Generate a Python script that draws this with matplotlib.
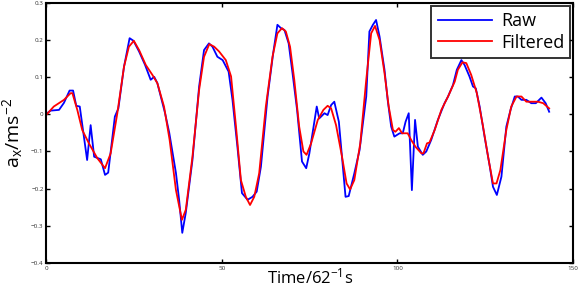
import matplotlib
matplotlib.use("Agg")
import matplotlib.pyplot as plt

plt.rcParams['font.family'] = ['Open Sans', 'DejaVu Sans']
plt.rcParams['mathtext.default'] = 'regular'

# raw accelerometer samples
t_raw = [0.2, 1.2, 3.6, 5.0, 6.6, 7.6, 8.5, 9.5, 11.6, 12.6, 13.6, 15.5, 16.7, 17.6,
         19.5, 20.5, 22.1, 23.7, 24.8, 26.4, 28.1, 29.7, 30.7, 31.6, 33.8, 35.0,
         36.9, 37.8, 38.7, 39.7, 41.6, 43.5, 44.9, 46.3, 47.3, 48.7, 50.2, 51.9,
         53.0, 54.4, 55.7, 57.3, 58.7, 59.9, 61.1, 63.0, 64.6, 65.8, 66.8, 67.8,
         69.0, 70.1, 71.4, 72.8, 74.0, 74.9, 77.0, 77.7, 79.2, 80.1, 81.1, 82.0,
         83.3, 85.2, 86.1, 87.7, 89.2, 91.1, 92.0, 93.0, 93.9, 94.9, 96.3, 97.2,
         98.2, 99.1, 100.6, 101.5, 102.3, 103.2, 104.1, 105.0, 105.8, 107.2, 108.2,
         109.6, 111.5, 113.4, 114.4, 115.8, 116.9, 118.2, 119.1, 120.5, 121.5,
         122.3, 123.4, 124.8, 126.3, 127.2, 128.3, 129.6, 131.0, 132.2, 133.4,
         134.3, 135.3, 136.7, 138.1, 139.4, 141.0, 142.2, 143.2]
a_raw = [0.003, 0.010, 0.012, 0.031, 0.064, 0.064, 0.023, 0.021, -0.123, -0.029,
         -0.114, -0.121, -0.163, -0.157, -0.006, 0.016, 0.128, 0.205, 0.198, 0.169,
         0.133, 0.093, 0.101, 0.084, 0.003, -0.050, -0.158, -0.230, -0.319, -0.265,
         -0.123, 0.075, 0.173, 0.191, 0.182, 0.155, 0.146, 0.115, 0.039, -0.087,
         -0.212, -0.230, -0.222, -0.208, -0.141, 0.048, 0.165, 0.241, 0.232, 0.227,
         0.191, 0.111, 0.012, -0.127, -0.145, -0.105, 0.021, -0.011, 0.003, -0.002,
         0.025, 0.034, -0.020, -0.222, -0.220, -0.159, -0.096, 0.048, 0.223, 0.241,
         0.254, 0.209, 0.120, 0.039, -0.033, -0.060, -0.051, -0.051, -0.020, 0.003,
         -0.204, -0.015, -0.087, -0.109, -0.100, -0.069, -0.015, 0.030, 0.048, 0.079,
         0.120, 0.146, 0.133, 0.102, 0.075, 0.070, 0.021, -0.060, -0.141, -0.195,
         -0.217, -0.168, -0.033, 0.012, 0.048, 0.048, 0.039, 0.039, 0.030, 0.030,
         0.045, 0.030, 0.007]

# filtered signal
t_filt = [0.2, 2.1, 5.0, 6.9, 7.4, 8.8, 10.2, 12.1, 14.5, 16.7, 18.3, 20.2, 22.1,
          23.5, 24.9, 26.4, 28.3, 30.2, 31.6, 33.5, 35.1, 36.9, 38.6, 39.7, 41.6,
          43.5, 44.9, 46.4, 47.8, 49.2, 51.1, 52.6, 54.0, 55.4, 56.8, 58.0, 59.2,
          60.6, 62.5, 64.4, 65.8, 67.1, 68.2, 69.4, 70.6, 72.0, 73.2, 74.1, 75.4,
          77.3, 78.9, 80.1, 81.1, 82.5, 84.2, 85.5, 86.5, 87.7, 89.4, 91.1, 92.5,
          93.6, 94.9, 96.3, 97.5, 98.7, 99.4, 100.4, 101.3, 102.9, 103.9, 105.1,
          106.8, 107.4, 108.4, 109.1, 110.6, 112.5, 114.4, 116.3, 117.2, 118.5,
          119.6, 121.0, 122.6, 124.3, 125.8, 127.2, 128.2, 129.3, 131.0, 132.4,
          133.9, 135.3, 136.7, 138.6, 140.0, 141.5, 143.2]
a_filt = [0.001, 0.021, 0.039, 0.057, 0.057, 0.012, -0.042, -0.078, -0.118, -0.145,
          -0.105, 0.003, 0.128, 0.182, 0.198, 0.173, 0.133, 0.106, 0.084, 0.021,
          -0.069, -0.204, -0.284, -0.257, -0.114, 0.066, 0.155, 0.189, 0.182, 0.169,
          0.146, 0.102, -0.033, -0.177, -0.222, -0.244, -0.222, -0.159, 0.021, 0.155,
          0.218, 0.232, 0.223, 0.182, 0.093, -0.033, -0.100, -0.109, -0.078, -0.015,
          0.012, 0.023, 0.016, -0.029, -0.114, -0.186, -0.202, -0.177, -0.078, 0.093,
          0.218, 0.238, 0.200, 0.111, 0.021, -0.042, -0.047, -0.037, -0.051, -0.051,
          -0.069, -0.087, -0.105, -0.105, -0.078, -0.076, -0.042, 0.012, 0.048, 0.088,
          0.120, 0.140, 0.138, 0.106, 0.057, -0.029, -0.114, -0.186, -0.186, -0.150,
          -0.042, 0.021, 0.048, 0.048, 0.034, 0.034, 0.034, 0.030, 0.016]

fig = plt.figure(figsize=(5.8, 2.88), dpi=100)
ax = fig.add_axes([0.080, 0.087, 0.908, 0.903])

ax.plot(t_raw, a_raw, color='#0000ff', lw=1.3, label='Raw')
ax.plot(t_filt, a_filt, color='#ff0000', lw=1.3, label='Filtered')

ax.set_xlim(0, 150)
ax.set_ylim(-0.4, 0.3)
ax.set_xticks([0, 50, 100, 150])
ax.set_yticks([-0.4, -0.3, -0.2, -0.1, 0, 0.1, 0.2, 0.3])
ax.set_yticklabels(['\u22120.4', '\u22120.3', '\u22120.2', '\u22120.1', '0', '0.1', '0.2', '0.3'])
ax.tick_params(direction='in', length=3, width=1, labelsize=4.5, pad=2,
               top=True, right=True, colors='black', labelcolor='#333333')
for s in ax.spines.values():
    s.set_linewidth(1.5)

ax.set_xlabel('Time/62$^{-1}$s', fontsize=12, labelpad=-2)
ax.set_ylabel('a$_x$/ms$^{-2}$', fontsize=14, labelpad=4)

leg = ax.legend(loc='upper right', fontsize=13, frameon=True, fancybox=False,
                edgecolor='black', handlelength=3.0, borderaxespad=0.15,
                labelspacing=0.2, borderpad=0.35, handletextpad=0.5)
leg.get_frame().set_linewidth(1.4)

fig.savefig('out.png', dpi=100)
